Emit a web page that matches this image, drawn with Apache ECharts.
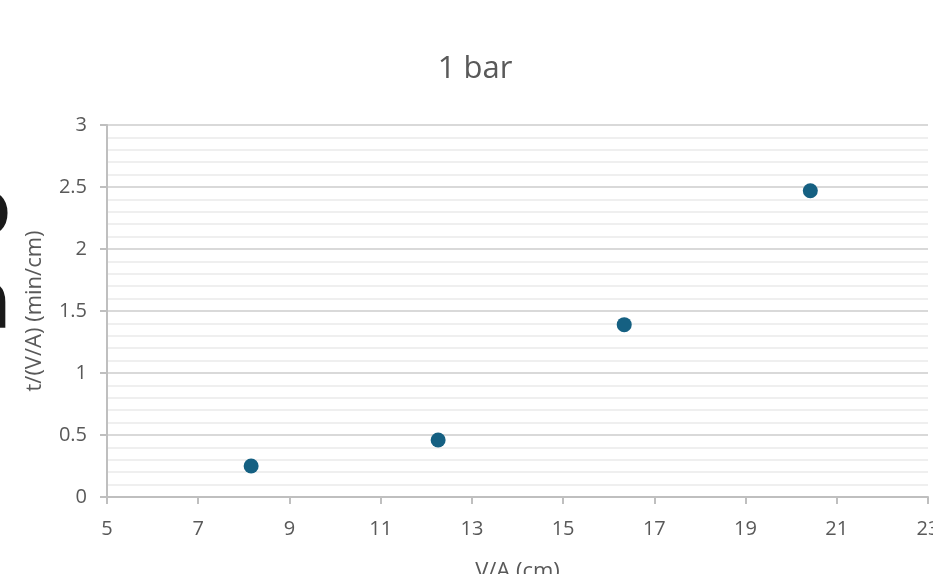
<!DOCTYPE html>
<html>
<head>
<meta charset="utf-8">
<script src="https://cdn.jsdelivr.net/npm/echarts@6/dist/echarts.min.js"></script>
<style>html,body{margin:0;padding:0;background:#fff;}#c{width:933px;height:574px;}</style>
</head>
<body>
<div id="c"></div>
<script>
var titleText = '1 bar';
var xName = 'V/A (cm)';
var yName = 't/(V/A) (min/cm)';
var xValues = [8.16, 12.26, 16.34, 20.42];
var yValues = [0.25, 0.46, 1.39, 2.47];
var xTickValues = [5, 7, 9, 11, 13, 15, 17, 19, 21, 23];

var points = xValues.map(function (x, i) { return [x, yValues[i]]; });
var font = '"Open Sans", "Noto Sans", sans-serif';
var chart = echarts.init(document.getElementById('c'), null, {renderer: 'canvas'});
chart.setOption({
  animation: false,
  backgroundColor: '#ffffff',
  title: {
    text: titleText, left: 470, top: 49, textAlign: 'center',
    textStyle: {fontFamily: font, fontSize: 31, fontWeight: 'normal', color: '#595959'}
  },
  graphic: [
    {type: 'text', silent: true, style: {x: 11, y: 254, text: 'o', textAlign: 'right', textVerticalAlign: 'bottom', font: 'bold 80px "DejaVu Sans", sans-serif', fill: '#1a1a1a'}},
    {type: 'text', silent: true, style: {x: 12, y: 348, text: 'a', textAlign: 'right', textVerticalAlign: 'bottom', font: 'bold 84px "DejaVu Sans", sans-serif', fill: '#1a1a1a'}}
  ],
  grid: {left: 107, right: 5, top: 125, bottom: 77, containLabel: false, outerBoundsMode: 'none'},
  xAxis: {
    type: 'value', min: 5, max: 23, interval: 1,
    name: xName, nameLocation: 'middle', nameGap: 64,
    nameTextStyle: {fontFamily: font, fontSize: 22, color: '#595959'},
    axisLine: {show: true, lineStyle: {color: '#bfbfbf', width: 2}},
    axisTick: {show: true, length: 7, lineStyle: {color: '#bfbfbf', width: 2}, customValues: xTickValues},
    axisLabel: {fontFamily: font, fontSize: 20, color: '#595959', margin: 22, customValues: xTickValues},
    splitLine: {show: false}
  },
  yAxis: {
    type: 'value', min: 0, max: 3, interval: 0.5,
    name: yName, nameLocation: 'middle', nameGap: 61, nameRotate: 90,
    nameTextStyle: {fontFamily: font, fontSize: 22, color: '#595959'},
    axisLine: {show: true, lineStyle: {color: '#bfbfbf', width: 2}},
    axisTick: {show: true, inside: false, length: 7, lineStyle: {color: '#bfbfbf', width: 2}},
    axisLabel: {fontFamily: font, fontSize: 20, color: '#595959', margin: 20},
    splitLine: {show: true, lineStyle: {color: '#d9d9d9', width: 2}},
    minorTick: {show: false, splitNumber: 5},
    minorSplitLine: {show: true, lineStyle: {color: '#efefef', width: 2}}
  },
  series: [{
    type: 'scatter', data: points, symbol: 'circle', symbolSize: 15,
    itemStyle: {color: '#156082', opacity: 1}
  }]
});
</script>
</body>
</html>
